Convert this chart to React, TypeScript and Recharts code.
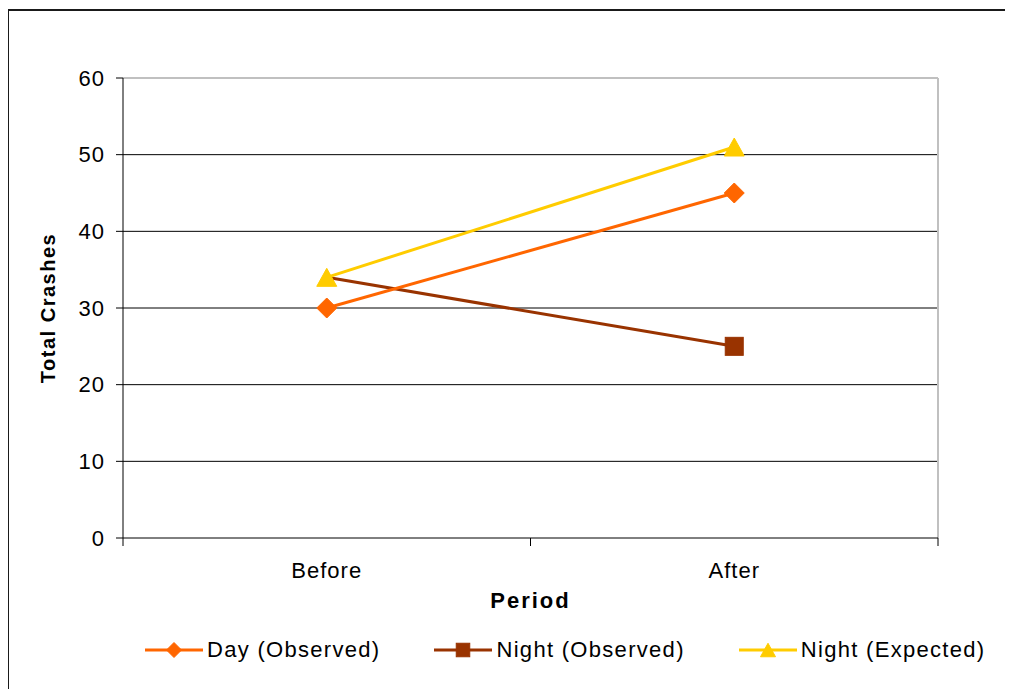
import React from 'react';
import { LineChart, Line, XAxis, YAxis, CartesianGrid, ReferenceLine, Legend } from 'recharts';

const periods = ['Before', 'After'];
const dayObserved = [30, 45];
const nightObserved = [34, 25];
const nightExpected = [34, 51];
// the shared "Before" point for night is marked once, by the expected series
const nightObservedMarked = [false, true];
const yTicks = [0, 10, 20, 30, 40, 50, 60];

type SeriesDef = { key: string; name: string; color: string; shape: 'diamond' | 'square' | 'triangle'; marked?: boolean[] };

const series: SeriesDef[] = [
  { key: 'day', name: 'Day (Observed)', color: '#FF6600', shape: 'diamond' },
  { key: 'nightObs', name: 'Night (Observed)', color: '#993300', shape: 'square', marked: nightObservedMarked },
  { key: 'nightExp', name: 'Night (Expected)', color: '#FFCC00', shape: 'triangle' },
];
// paint order: brown under orange, yellow on top
const drawOrder = ['nightObs', 'day', 'nightExp'];

// each period sits in the middle of its band on a 0..n numeric axis
const data = periods.map((p, i) => ({
  period: p,
  pos: i + 0.5,
  day: dayObserved[i],
  nightObs: nightObserved[i],
  nightExp: nightExpected[i],
}));

const xTicks: number[] = [];
for (let i = 0; i <= periods.length; i++) {
  xTicks.push(i);
  if (i < periods.length) xTicks.push(i + 0.5);
}

const FONT = '"Liberation Sans", Arial, sans-serif';
const TICK_SIZE = 8;

function Marker({ shape, cx, cy, color, s }: { shape: SeriesDef['shape']; cx: number; cy: number; color: string; s: number }) {
  if (shape === 'diamond') {
    return <polygon points={`${cx},${cy - s} ${cx + s},${cy} ${cx},${cy + s} ${cx - s},${cy}`} fill={color} stroke={color} />;
  }
  if (shape === 'square') {
    return <rect x={cx - s * 0.9} y={cy - s * 0.9} width={s * 1.8} height={s * 1.8} fill={color} stroke={color} />;
  }
  return <polygon points={`${cx},${cy - s * 0.9} ${cx + s},${cy + s * 0.9} ${cx - s},${cy + s * 0.9}`} fill={color} stroke={color} />;
}

function makeDot(def: SeriesDef) {
  return (props: any) => {
    const { cx, cy, key, index } = props;
    if (cx == null || cy == null || (def.marked && !def.marked[index])) return <g key={key} />;
    return (
      <g key={key}>
        <Marker shape={def.shape} cx={cx} cy={cy} color={def.color} s={10} />
      </g>
    );
  };
}

function PeriodTick(props: any) {
  const { x, y, payload } = props;
  const v = payload.value as number;
  const axisY = y - TICK_SIZE;
  if (Number.isInteger(v)) {
    return <line x1={x} y1={axisY} x2={x} y2={axisY + TICK_SIZE} stroke="#000" strokeWidth={1} />;
  }
  return (
    <text x={x} y={axisY + 40} textAnchor="middle" fontSize={22} fill="#000" style={{ fontFamily: FONT, letterSpacing: '1px' }}>
      {periods[Math.floor(v)]}
    </text>
  );
}

function LegendContent() {
  return (
    <div style={{ height: 40, display: 'flex', alignItems: 'center', paddingLeft: 145, fontFamily: FONT, fontSize: 22, letterSpacing: '1.3px', color: '#000', whiteSpace: 'nowrap' }}>
      {series.map((s) => (
        <div key={s.key} style={{ display: 'flex', alignItems: 'center', marginRight: 54, flexShrink: 0 }}>
          <svg width={58} height={24} style={{ marginRight: 4 }}>
            <line x1={0} y1={12} x2={58} y2={12} stroke={s.color} strokeWidth={3} />
            <Marker shape={s.shape} cx={29} cy={12} color={s.color} s={7.5} />
          </svg>
          <span>{s.name}</span>
        </div>
      ))}
    </div>
  );
}

export default function App() {
  return (
    <div style={{ position: 'relative', width: 1013, height: 697, margin: -8, overflow: 'hidden', background: '#fff', fontFamily: FONT }}>
      {/* outer frame: only its left and top edges fall inside the page */}
      <svg width={1013} height={697} style={{ position: 'absolute', left: 0, top: 0 }}>
        <path d="M8,697 V10 H1013" fill="none" stroke="#1a1a1a" strokeWidth={2} />
      </svg>
      <div style={{ position: 'absolute', left: 0, top: 0 }}>
        <LineChart width={1013} height={697} data={data} margin={{ top: 78, right: 75, left: 0, bottom: 40 }}>
          <CartesianGrid horizontal vertical={false} horizontalValues={[10, 20, 30, 40, 50]} stroke="#000" strokeWidth={1} />
          <XAxis
            dataKey="pos"
            type="number"
            domain={[0, periods.length]}
            ticks={xTicks}
            interval={0}
            height={79}
            tickSize={TICK_SIZE}
            tickMargin={0}
            tickLine={false}
            tick={<PeriodTick />}
            axisLine={{ stroke: '#000', strokeWidth: 1 }}
            label={{ value: 'Period', position: 'insideBottom', offset: 0, dy: -9, fontSize: 22, fontWeight: 'bold', fill: '#000', style: { letterSpacing: '2px' } }}
          />
          <YAxis
            domain={[0, 60]}
            ticks={yTicks}
            interval={0}
            width={123}
            tickSize={7}
            tickMargin={11}
            axisLine={{ stroke: '#000', strokeWidth: 1 }}
            tickLine={{ stroke: '#000', strokeWidth: 1 }}
            tick={{ fontSize: 22, fill: '#000', style: { letterSpacing: '1px' } }}
            label={{ value: 'Total Crashes', angle: -90, position: 'insideLeft', offset: 0, dx: 48, fontSize: 20, fontWeight: 'bold', fill: '#000', style: { textAnchor: 'middle', letterSpacing: '1.5px' } }}
          />
          <ReferenceLine y={60} stroke="#c0c0c0" strokeWidth={2} />
          <ReferenceLine x={periods.length} stroke="#c0c0c0" strokeWidth={2} />
          <Legend verticalAlign="bottom" content={<LegendContent />} wrapperStyle={{ top: 630, left: 0, width: 1013 }} />
          {drawOrder.map((k) => {
            const s = series.find((d) => d.key === k)!;
            return (
              <Line
                key={s.key}
                type="linear"
                dataKey={s.key}
                name={s.name}
                stroke={s.color}
                strokeWidth={3}
                dot={makeDot(s)}
                activeDot={false}
                isAnimationActive={false}
              />
            );
          })}
        </LineChart>
      </div>
    </div>
  );
}
